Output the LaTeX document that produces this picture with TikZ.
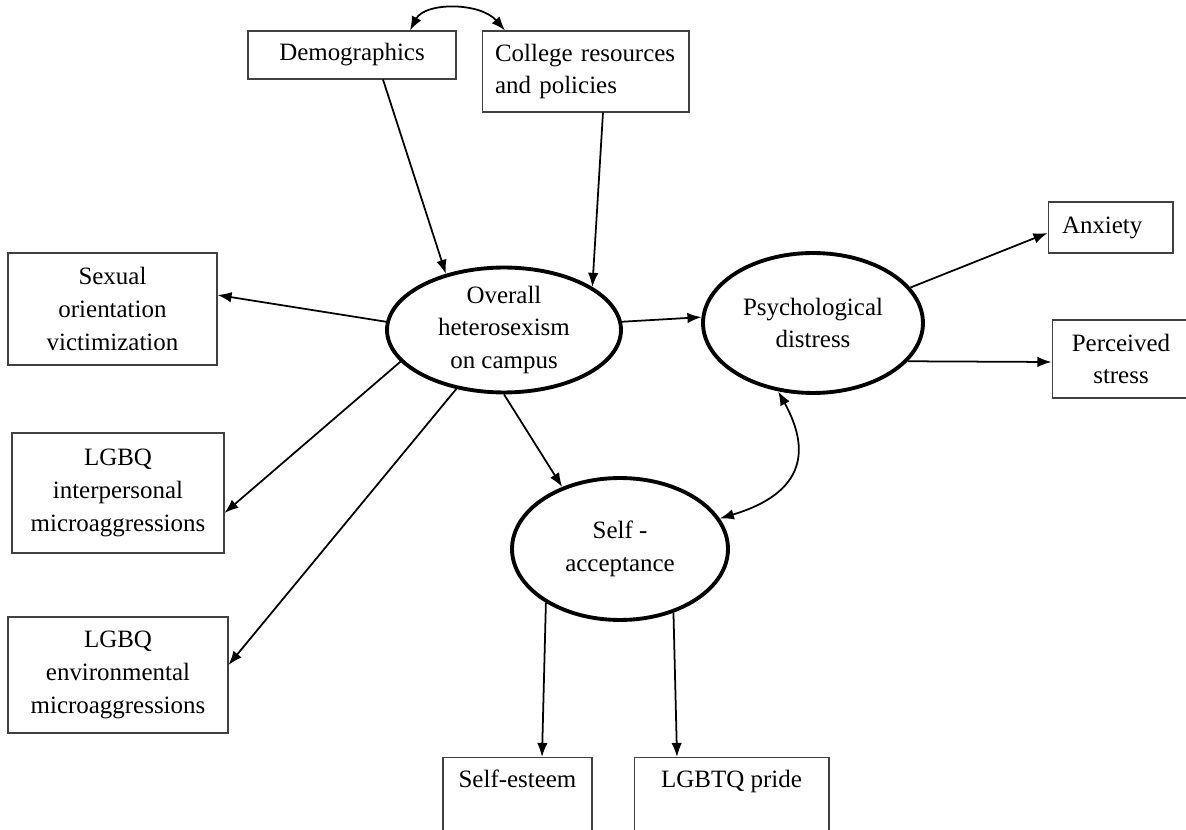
\documentclass[tikz,border=0pt]{standalone}
\usepackage{fontspec}
\setmainfont{Liberation Serif}
\usetikzlibrary{shapes.geometric,arrows.meta}
\begin{document}
\begin{tikzpicture}[x=0.02cm,y=-0.02cm,
  every node/.style={font=\fontsize{14.2}{18.7}\selectfont, text=black},
  box/.style={draw=black!75, line width=0.6pt, rectangle, inner sep=0pt, align=center},
  latent/.style={draw=black, line width=2.2pt, ellipse, inner sep=0pt, align=center},
  conn/.style={line width=1pt, -{Latex[length=8pt,width=6pt]}},
  biconn/.style={line width=1pt, {Latex[length=8pt,width=6pt]}-{Latex[length=8pt,width=6pt]}}]
\useasboundingbox (0,0) rectangle (1186,830);
\clip (0,0) rectangle (1186,830);

\node[box, minimum width=4.16cm, minimum height=0.96cm] (demo) at (352,55) {Demographics};
\node[box, minimum width=4.14cm, minimum height=1.62cm, align=left, text width=3.62cm] (college) at (585.5,71.5) {College resources\\and policies};
\node[box, minimum width=4.18cm, minimum height=2.24cm] (sexual) at (112.5,309) {Sexual\\orientation\\victimization};
\node[box, minimum width=4.24cm, minimum height=2.4cm] (inter) at (118,493) {LGBQ\\interpersonal\\microaggressions};
\node[box, minimum width=4.4cm, minimum height=2.32cm] (env) at (118,675) {LGBQ\\environmental\\microaggressions};
\node[latent, minimum width=4.68cm, minimum height=2.48cm] (overall) at (504,330) {Overall\\heterosexism\\on campus};
\node[latent, minimum width=4.4cm, minimum height=2.8cm] (psych) at (813,323) {Psychological\\distress};
\node[latent, minimum width=4.32cm, minimum height=2.84cm] (self) at (620,549) {Self -\\acceptance};
\node[box, minimum width=2.5cm, minimum height=1.02cm, align=left, text width=1.94cm] (anx) at (1110.5,227.5) {Anxiety};
\node[box, minimum width=2.76cm, minimum height=1.56cm] (stress) at (1121,359) {Perceived\\stress};
\node[box, anchor=north, minimum width=2.98cm, text height=0.36cm, text depth=1.6cm, inner ysep=0.24cm] (esteem) at (517.5,757) {Self-esteem};
\node[box, anchor=north, minimum width=3.9cm, text height=0.36cm, text depth=1.6cm, inner ysep=0.24cm] (pride) at (731.5,757) {LGBTQ pride};

\draw[biconn] ([xshift=1.16cm]demo.north) .. controls (425,2) and (480,2) .. ([xshift=-1.61cm]college.north);
\draw[conn] ([xshift=0.62cm]demo.south) -- (overall.136);
\draw[conn] ([xshift=0.35cm]college.south) -- (overall.26);
\draw[conn] (overall.176) -- ([yshift=0.28cm]sexual.east);
\draw[conn] (overall.197) -- ([yshift=-0.4cm]inter.east);
\draw[conn] (overall.231) -- ([yshift=0.2cm]env.east);
\draw[conn] (overall.4) -- (psych.177);
\draw[conn] (overall.270) -- (self.133);
\draw[conn] (psych.20) -- ([yshift=-0.11cm]anx.west);
\draw[conn] (psych.338) -- ([yshift=-0.06cm]stress.west);
\draw[biconn] (psych.243) .. controls (805,440) and (815,490) .. (self.17);
\draw[conn] (self.216) -- ([xshift=0.49cm]esteem.north);
\draw[conn] (self.310) -- ([xshift=-1.09cm]pride.north);
\end{tikzpicture}
\end{document}
